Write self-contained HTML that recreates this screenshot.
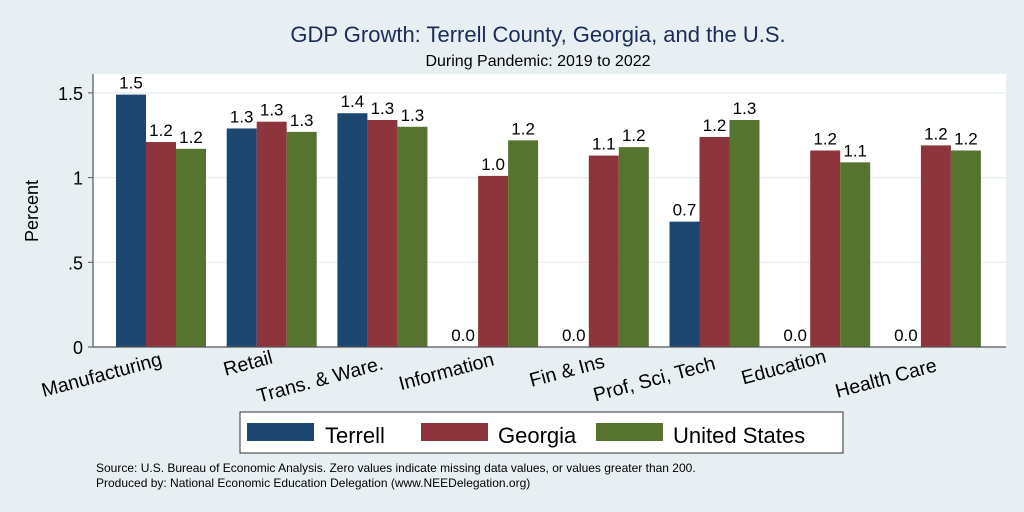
<!DOCTYPE html>
<html><head><meta charset="utf-8"><style>
body{margin:0;background:#e8eff2;}
svg{display:block;font-family:"Liberation Sans",sans-serif;}
</style></head><body>
<svg id="chart" width="1024" height="512">
<rect x="0" y="0" width="1024" height="512" fill="#e8eff2"/>
<text x="538" y="42" font-size="22" fill="#1b2c57" text-anchor="middle">GDP Growth: Terrell County, Georgia, and the U.S.</text>
<text x="538" y="66" font-size="16" fill="#000" text-anchor="middle">During Pandemic: 2019 to 2022</text>
<rect x="93" y="74" width="913" height="273" fill="#fff"/>
<g id="grid"></g>
<g id="bars"></g>
<g id="labels"></g>
<line x1="93" y1="74" x2="93" y2="347" stroke="#555" stroke-width="1.2"/>
<line x1="93" y1="347" x2="1006" y2="347" stroke="#555" stroke-width="1.2"/>
<text transform="translate(38,211) rotate(-90)" font-size="18" text-anchor="middle">Percent</text>
<g>
<rect x="240" y="412" width="603" height="41" fill="#fff" stroke="#333" stroke-width="1"/>
<rect x="247" y="423" width="67" height="18" fill="#1d4670"/>
<text x="325" y="443" font-size="22">Terrell</text>
<rect x="421" y="423" width="67" height="18" fill="#8d343c"/>
<text x="498" y="443" font-size="22">Georgia</text>
<rect x="596" y="423" width="67" height="18" fill="#56742f"/>
<text x="673" y="443" font-size="22">United States</text>
</g>
<text x="96" y="472" font-size="12">Source: U.S. Bureau of Economic Analysis. Zero values indicate missing data values, or values greater than 200.</text>
<text x="96" y="487" font-size="12">Produced by: National Economic Education Delegation (www.NEEDelegation.org)</text>
</svg>
<script>
const categories=["Manufacturing","Retail","Trans. & Ware.","Information","Fin & Ins","Prof, Sci, Tech","Education","Health Care"];
const terrell=[1.49,1.29,1.38,0,0,0.74,0,0];
const georgia=[1.21,1.33,1.34,1.01,1.13,1.24,1.16,1.19];
const unitedStates=[1.17,1.27,1.30,1.22,1.18,1.34,1.09,1.16];
const yTicks=[0,0.5,1,1.5];
const yTickLabels=["0",".5","1","1.5"];
const NS="http://www.w3.org/2000/svg";
const y0=347,unit=169.4,left=93,right=1006;
const groupStart=116,groupStep=110.7,barW=30;
function yS(v){return y0-v*unit;}
function xS(i,s){return groupStart+i*groupStep+s*barW;}
function mk(t,a,p){const e=document.createElementNS(NS,t);for(const k in a)e.setAttribute(k,a[k]);p.appendChild(e);return e;}
const grid=document.getElementById('grid'),bars=document.getElementById('bars'),labels=document.getElementById('labels');
yTicks.forEach((v,i)=>{
  if(v>0){const g=mk('line',{x1:left,x2:right,y1:yS(v),y2:yS(v),stroke:'#e6edf0','stroke-width':1.2},grid);
  
  }
  const tk=mk('line',{x1:left-5,x2:left,y1:yS(v),y2:yS(v),stroke:'#555'},grid);
  
  
  const t=mk('text',{x:left-10,y:yS(v)+7,'font-size':18,'text-anchor':'end'},grid);
  t.textContent=yTickLabels[i];
  
  
});
const series=[terrell,georgia,unitedStates],colors=["#1d4670","#8d343c","#56742f"],names=["terrell","georgia","us"];
const labYOff=[0,-2,4,0,2,4,-3,6];
categories.forEach((c,i)=>{
  series.forEach((arr,s)=>{
    const v=arr[i],x=xS(i,s);
    if(v>0){const r=mk('rect',{x:x,y:yS(v),width:barW,height:v*unit,fill:colors[s]},bars);
    
    }
    const t=mk('text',{x:x+barW/2,y:yS(v)-6,'font-size':17,'text-anchor':'middle'},bars);
    t.textContent=v.toFixed(1);
    
    
  });
  const cx=xS(i,1.5)+2,cy=365+labYOff[i];
  const l=mk('text',{x:cx,y:cy,'font-size':19.5,'text-anchor':'end',transform:`rotate(-15 ${cx} ${cy})`},labels);
  l.textContent=c;
  
  
});
</script>
</body></html>
